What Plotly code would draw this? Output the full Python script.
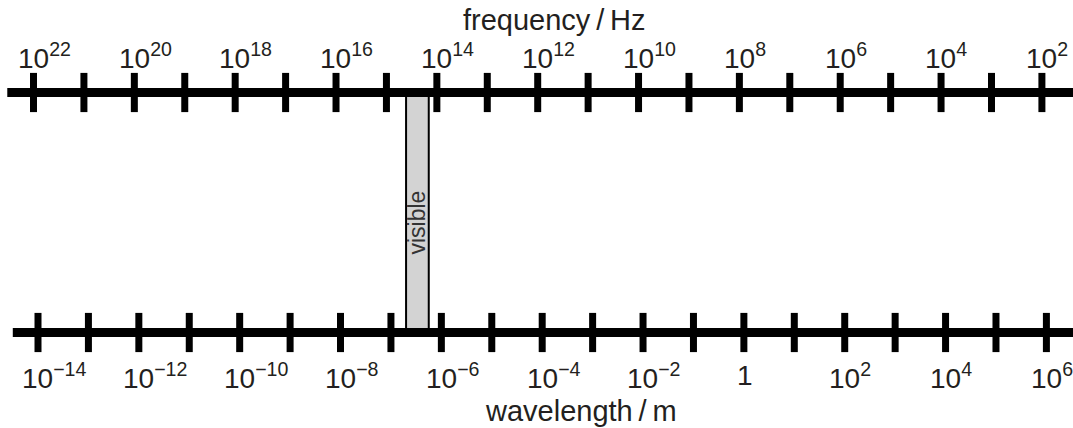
import plotly.graph_objects as go

# ---- data ----
wavelength_tick_exp = list(range(-14, 7))          # one tick per decade (m)
wavelength_label_exp = list(range(-14, 7, 2))      # labelled decades
frequency_tick_exp = list(range(22, 1, -1))        # one tick per decade (Hz)
frequency_label_exp = list(range(22, 1, -2))       # labelled decades
visible_lambda_exp = [-6.70, -6.25]                # visible band (log10 m)
wavelength_line_ext = [-14.50, 7.0]                # extent of bottom scale line
frequency_line_ext = [22.52, 1.0]                  # extent of top scale line

W, H = 1073, 428
FONT = "Liberation Sans, Arial, Helvetica, sans-serif"
TXT = "#231f20"
LABEL_SIZE = 28
TITLE_SIZE = 29

def fmt(e):
    if e == 0:
        return "1"
    s = str(e).replace("-", "\u2212")
    return f"10<sup>{s}</sup>"

fig = go.Figure()

# visible band
fig.add_shape(type="rect", xref="x", yref="y",
              x0=visible_lambda_exp[0], x1=visible_lambda_exp[1], y0=0, y1=1,
              fillcolor="#d3d3d3", line=dict(color="black", width=2), layer="below")

# bottom scale (wavelength) on xaxis, y = 0
fig.add_trace(go.Scatter(x=wavelength_line_ext, y=[0, 0], mode="lines",
                         line=dict(color="black", width=9), xaxis="x", yaxis="y",
                         hoverinfo="skip", showlegend=False))
fig.add_trace(go.Scatter(x=wavelength_tick_exp, y=[0] * len(wavelength_tick_exp), mode="markers",
                         marker=dict(symbol="line-ns", size=28, line=dict(color="black", width=7)),
                         xaxis="x", yaxis="y", hoverinfo="skip", showlegend=False))

# top scale (frequency) on xaxis2, y = 1
fig.add_trace(go.Scatter(x=frequency_line_ext, y=[1, 1], mode="lines",
                         line=dict(color="black", width=9), xaxis="x2", yaxis="y",
                         hoverinfo="skip", showlegend=False))
fig.add_trace(go.Scatter(x=frequency_tick_exp, y=[1] * len(frequency_tick_exp), mode="markers",
                         marker=dict(symbol="line-ns", size=28, line=dict(color="black", width=7)),
                         xaxis="x2", yaxis="y", hoverinfo="skip", showlegend=False))

annotations = []
annotations.append(dict(x=sum(visible_lambda_exp) / 2, y=0.46, xref="x", yref="y",
                        text="visible", textangle=-90, showarrow=False,
                        font=dict(family=FONT, size=23, color="#333333")))

def half10(size):
    return -(0.578 * size) - 1.5

for e in frequency_label_exp:
    annotations.append(dict(x=e, y=1, xref="x2", yref="y", text=fmt(e), showarrow=False,
                            xanchor="left" if e != 0 else "center",
                            xshift=half10(LABEL_SIZE) if e != 0 else 0,
                            yanchor="middle", yshift=36.5,
                            font=dict(family=FONT, size=LABEL_SIZE, color=TXT)))
for e in wavelength_label_exp:
    annotations.append(dict(x=e, y=0, xref="x", yref="y", text=fmt(e), showarrow=False,
                            xanchor="left" if e != 0 else "center",
                            xshift=half10(LABEL_SIZE) if e != 0 else 1,
                            yanchor="middle", yshift=-43,
                            font=dict(family=FONT, size=LABEL_SIZE, color=TXT)))

annotations.append(dict(x=554 / W, y=1 - 20 / H, xref="paper", yref="paper", yanchor="middle",
                        text="frequency\u2009/\u2009Hz", showarrow=False,
                        font=dict(family=FONT, size=TITLE_SIZE, color=TXT)))
annotations.append(dict(x=581 / W, y=1 - 411 / H, xref="paper", yref="paper", yanchor="middle",
                        text="wavelength\u2009/\u2009m", showarrow=False,
                        font=dict(family=FONT, size=TITLE_SIZE, color=TXT)))

# axis ranges chosen so that decades are evenly spaced across the canvas
px_per_dec = 50.42
x0_lambda_px = 38.0
x0_freq_px = 33.5
lam_range = [-14 - x0_lambda_px / px_per_dec, -14 + (W - x0_lambda_px) / px_per_dec]
freq_range = [22 + x0_freq_px / px_per_dec, 22 - (W - x0_freq_px) / px_per_dec]
y_top_px, y_bot_px = 92.5, 332.5
unit = y_bot_px - y_top_px
y_range = [-(H - y_bot_px) / unit, 1 + y_top_px / unit]

fig.update_layout(
    width=W, height=H,
    margin=dict(l=0, r=0, t=0, b=0),
    plot_bgcolor="white", paper_bgcolor="white",
    xaxis=dict(range=lam_range, visible=False, domain=[0, 1], fixedrange=True),
    xaxis2=dict(range=freq_range, visible=False, overlaying="x", anchor="y", fixedrange=True),
    yaxis=dict(range=y_range, visible=False, domain=[0, 1], fixedrange=True),
    annotations=annotations,
    showlegend=False,
    hovermode=False,
)

fig.write_html("out.html",
               config={"displayModeBar": False, "staticPlot": True},
               post_script="document.body.style.margin='0';document.body.style.overflow='hidden';")
